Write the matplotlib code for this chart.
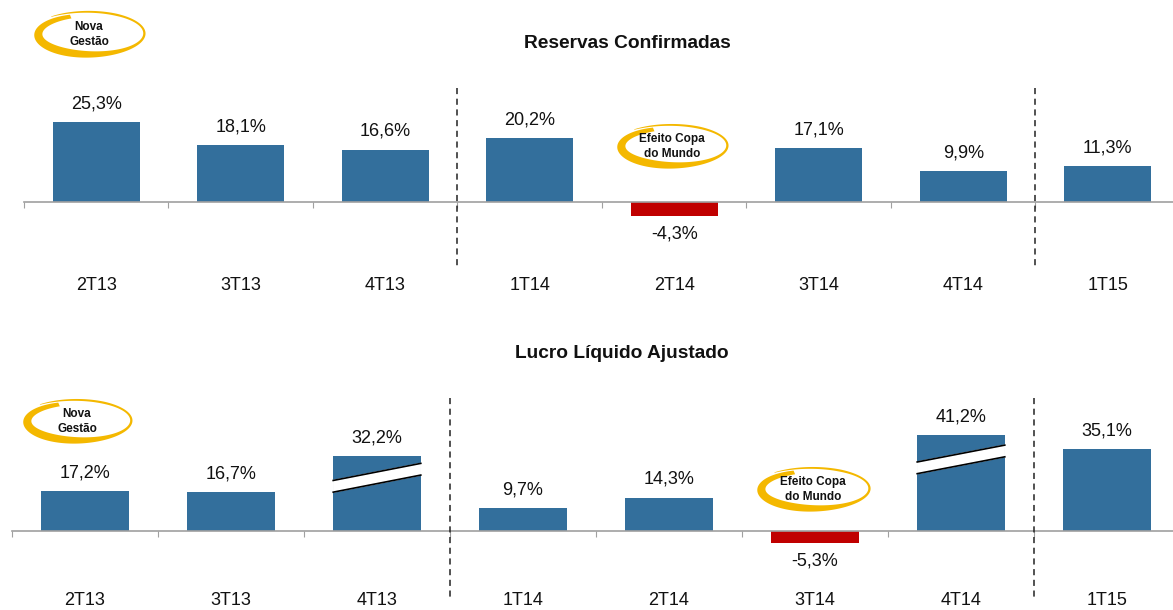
import matplotlib.pyplot as plt
import numpy as np

plt.rcParams['font.family'] = ['Liberation Sans', 'DejaVu Sans']

categories = ["2T13", "3T13", "4T13", "1T14", "2T14", "3T14", "4T14", "1T15"]
reservas = [25.3, 18.1, 16.6, 20.2, -4.3, 17.1, 9.9, 11.3]
lucro = [17.2, 16.7, 32.2, 9.7, 14.3, -5.3, 41.2, 35.1]
# bars of lucro with a "broken" marker: (index, left mid, right mid) in data units
lucro_breaks = [(2, 19.1, 26.4), (6, 27.0, 34.2)]

BLUE = "#336F9C"
RED = "#C00000"
GOLD = "#F4B800"
W, H = 1173, 610


def fmt(v):
    return f"{v:.1f}".replace(".", ",") + "%"


def draw_panel(ax, values, label_y, vlines_y):
    x = np.arange(len(values))
    colors = [RED if v < 0 else BLUE for v in values]
    ax.bar(x, values, width=0.6, color=colors, zorder=2)
    for xi, v in zip(x, values):
        off = 13 if v >= 0 else -13
        ax.annotate(fmt(v), (xi, v), xytext=(0, off), textcoords="offset points",
                    ha="center", va="center", fontsize=13, color="#111111")
        ax.text(xi, label_y, categories[xi], ha="center", va="center",
                fontsize=13, color="#111111")
    for xv in (2.5, 6.5):
        ax.plot([xv, xv], vlines_y, color="#222222", lw=1.1,
                dashes=(4, 3), zorder=3)
    ax.spines[["top", "right", "left"]].set_visible(False)
    ax.spines["bottom"].set_position(("data", 0))
    ax.spines["bottom"].set_color("#A0A0A0")
    ax.spines["bottom"].set_linewidth(1.2)
    ax.set_xticks(np.arange(-0.5, len(values) + 0.5, 1))
    ax.set_xticklabels([])
    ax.tick_params(axis="x", direction="out", length=4, color="#A0A0A0")
    ax.set_yticks([])
    ax.set_xlim(-0.5, 7.452)


fig = plt.figure(figsize=(W / 100, H / 100), dpi=100)

# top chart: baseline at y=202 px, 3.16 px per unit, axes from x=24 px
ax1 = fig.add_axes([24 / W, (H - 300) / H, (W - 24) / W, 240 / H])
draw_panel(ax1, reservas, -26.3, [36.1, -20.9])
ax1.set_ylim(-(300 - 202) / 3.16, (202 - 60) / 3.16)

# bottom chart: baseline at y=531 px, 2.34 px per unit, axes from x=12 px
ax2 = fig.add_axes([12 / W, 0, (W - 12) / W, 230 / H])
draw_panel(ax2, lucro, -29.5, [56.8, -28.6])
ax2.set_ylim(-(610 - 531) / 2.34, (531 - 380) / 2.34)

for i, lm, rm in lucro_breaks:
    x0, x1 = i - 0.3, i + 0.3
    h = 2.5
    ax2.fill([x0, x1, x1, x0], [lm - h, rm - h, rm + h, lm + h],
             color="white", zorder=4)
    ax2.plot([x0, x1], [lm - h, rm - h], color="black", lw=1.2, zorder=5)
    ax2.plot([x0, x1], [lm + h, rm + h], color="black", lw=1.2, zorder=5)

# overlay in pixel coordinates for titles and hand-drawn ellipses
ov = fig.add_axes([0, 0, 1, 1], zorder=10)
ov.set_xlim(0, W)
ov.set_ylim(H, 0)
ov.axis("off")
ov.patch.set_alpha(0)

ov.text(627, 44, "Reservas Confirmadas", ha="center", va="center",
        fontsize=13.8, fontweight="bold", color="#111111")
ov.text(622, 353, "Lucro Líquido Ajustado", ha="center", va="center",
        fontsize=13.8, fontweight="bold", color="#111111")


def swoosh(cx, cy, a, b, text):
    deg = np.linspace(112, 490, 400)
    t = np.radians(deg)
    grow = np.linspace(0.94, 1.13, t.size)
    w = 2.2 + 6.5 * ((1 + np.cos(np.radians(deg - 210))) / 2) ** 1.5
    tail = deg > 420
    w[tail] *= np.linspace(1, 0.1, tail.sum())
    ra, rb = a * grow, b * grow
    xo = cx + (ra + w / 2) * np.cos(t)
    yo = cy - (rb + w / 2) * np.sin(t)
    xi = cx + (ra - w / 2) * np.cos(t)
    yi = cy - (rb - w / 2) * np.sin(t)
    ov.fill(np.r_[xo, xi[::-1]], np.r_[yo, yi[::-1]], color=GOLD, lw=0)
    l1, l2 = text
    ov.text(cx, cy - 7, l1, ha="center", va="center", fontsize=8.5,
            fontweight="bold", color="#111111")
    ov.text(cx, cy + 8, l2, ha="center", va="center", fontsize=8.5,
            fontweight="bold", color="#111111")


swoosh(89, 34, 52, 20, ("Nova", "Gestão"))
swoosh(77, 421, 51, 19, ("Nova", "Gestão"))
swoosh(672, 146, 52, 19, ("Efeito Copa", "do Mundo"))
swoosh(813, 489, 53, 19, ("Efeito Copa", "do Mundo"))

fig.savefig("out.png", dpi=100)
